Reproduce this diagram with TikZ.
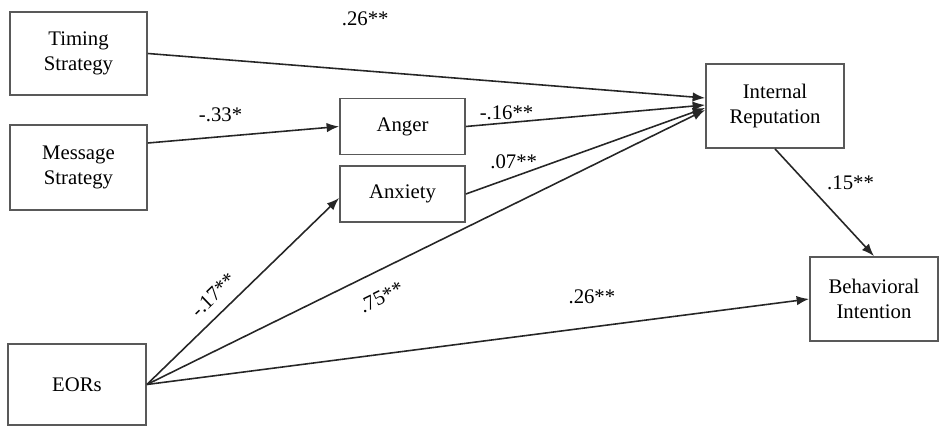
\documentclass[tikz,border=0pt]{standalone}
\usepackage{fontspec}
\setmainfont{Liberation Serif}
\usetikzlibrary{arrows.meta}
\begin{document}
\begin{tikzpicture}[every node/.style={font=\fontsize{11.8}{14}\selectfont},
    box/.style={draw=black!65, line width=1pt, align=center, inner sep=0pt, minimum width=2.74cm, minimum height=1.66cm},
    emo/.style={box, minimum width=2.5cm, minimum height=1.12cm},
    coef/.style={inner sep=1pt},
    path/.style={draw=black!85, line width=0.9pt, -{Latex[length=2.5mm,width=1.9mm]}}]
    \useasboundingbox (0,0) rectangle (18.78,-8.52);
    \node[box] (tim) at (1.57,-1.07) {Timing\\Strategy};
    \node[box, minimum height=1.70cm] (msg) at (1.57,-3.35) {Message\\Strategy};
    \node[box, minimum width=2.76cm, minimum height=1.62cm] (eor) at (1.54,-7.69) {EORs};
    \node[emo] (ang) at (8.05,-2.53) {Anger};
    \node[emo] (anx) at (8.05,-3.88) {Anxiety};
    \node[box, minimum width=2.76cm, minimum height=1.68cm] (rep) at (15.5,-2.12) {Internal\\Reputation};
    \node[box, minimum width=2.56cm, minimum height=1.68cm] (beh) at (17.48,-5.98) {Behavioral\\Intention};
    \draw[path] (tim.east) -- node[coef, pos=.39, yshift=1.04cm]{.26**} ([yshift=0.16cm]rep.west);
    \draw[path] ([yshift=0.49cm]msg.east) -- node[coef, pos=.38, yshift=0.44cm]{-.33*} (ang.west);
    \draw[path] (ang.east) -- node[coef, pos=.17, yshift=0.2cm]{-.16**} ([yshift=0.02cm]rep.west);
    \draw[path] (anx.east) -- node[coef, pos=.2, yshift=0.3cm]{.07**} ([yshift=-0.04cm]rep.west);
    \draw[path] (eor.east) -- node[coef, pos=.41, sloped, above=4.8pt]{-.17**} ([yshift=-0.08cm]anx.west);
    \draw[path] (eor.east) -- node[coef, pos=.40, sloped, below=9pt]{.75**} ([yshift=-0.08cm]rep.west);
    \draw[path] (eor.east) -- node[coef, pos=.672, yshift=0.6cm]{.26**} (beh.west);
    \draw[path] (rep.south) -- node[coef, pos=.32, right=0.36cm]{.15**} (beh.north);
\end{tikzpicture}
\end{document}
